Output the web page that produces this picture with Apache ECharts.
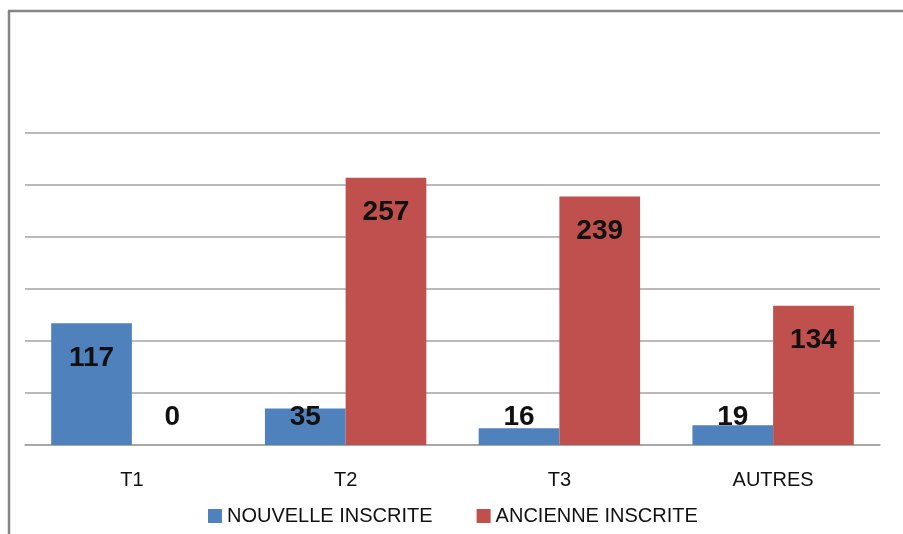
<!DOCTYPE html>
<html>
<head>
<meta charset="utf-8">
<script src="https://cdn.jsdelivr.net/npm/echarts@6/dist/echarts.min.js"></script>
<style>html,body{margin:0;padding:0;background:#fff;}#c{width:903px;height:534px;}</style>
</head>
<body>
<div id="c"></div>
<script>
const categories = ['T1', 'T2', 'T3', 'AUTRES'];
const seriesNames = ['NOUVELLE INSCRITE', 'ANCIENNE INSCRITE'];
const nouvelle = [117, 35, 16, 19];
const ancienne = [0, 257, 239, 134];
const yTicks = [0, 50, 100, 150, 200, 250, 300];

const SMALL = 60;
function toItems(arr) {
  return arr.map(v => ({
    value: v,
    label: v < SMALL ? { position: 'insideBottom', distance: 14 } : { position: 'insideTop', distance: 21 }
  }));
}

const chart = echarts.init(document.getElementById('c'), null, { renderer: 'canvas' });
const labelStyle = {
  show: true,
  color: '#111',
  fontFamily: 'Liberation Sans',
  fontWeight: 'bold',
  fontSize: 28
};
chart.setOption({
  animation: false,
  backgroundColor: '#fff',
  grid: { left: 25, right: 23, top: 133, bottom: 89, containLabel: false },
  graphic: [
    { type: 'line', shape: { x1: 9, y1: 11, x2: 9, y2: 534 }, style: { stroke: '#858585', lineWidth: 2.5 } },
    { type: 'line', shape: { x1: 8, y1: 11, x2: 903, y2: 11 }, style: { stroke: '#858585', lineWidth: 2.5 } }
  ],
  legend: {
    data: seriesNames,
    left: 203,
    top: 501,
    itemWidth: 14,
    itemHeight: 14,
    itemGap: 44,
    icon: 'rect',
    textStyle: { fontFamily: 'Liberation Sans', fontSize: 20, color: '#111' }
  },
  xAxis: {
    type: 'category',
    data: categories,
    axisLine: { show: true, lineStyle: { color: '#a3a3a3', width: 1.5 } },
    axisTick: { show: false },
    axisLabel: { margin: 25, fontFamily: 'Liberation Sans', fontSize: 20, color: '#111' }
  },
  yAxis: {
    type: 'value',
    min: yTicks[0],
    max: yTicks[yTicks.length - 1],
    interval: yTicks[1] - yTicks[0],
    axisLine: { show: false },
    axisTick: { show: false },
    axisLabel: { show: false },
    splitLine: { lineStyle: { color: '#a3a3a3', width: 1.5 } }
  },
  series: [
    {
      name: seriesNames[0], type: 'bar', data: toItems(nouvelle),
      barGap: '0%', barCategoryGap: '24.5%',
      itemStyle: { color: '#4F81BD' },
      label: labelStyle
    },
    {
      name: seriesNames[1], type: 'bar', data: toItems(ancienne),
      barGap: '0%', barCategoryGap: '24.5%',
      itemStyle: { color: '#C0504D' },
      label: labelStyle
    }
  ]
});
</script>
</body>
</html>
